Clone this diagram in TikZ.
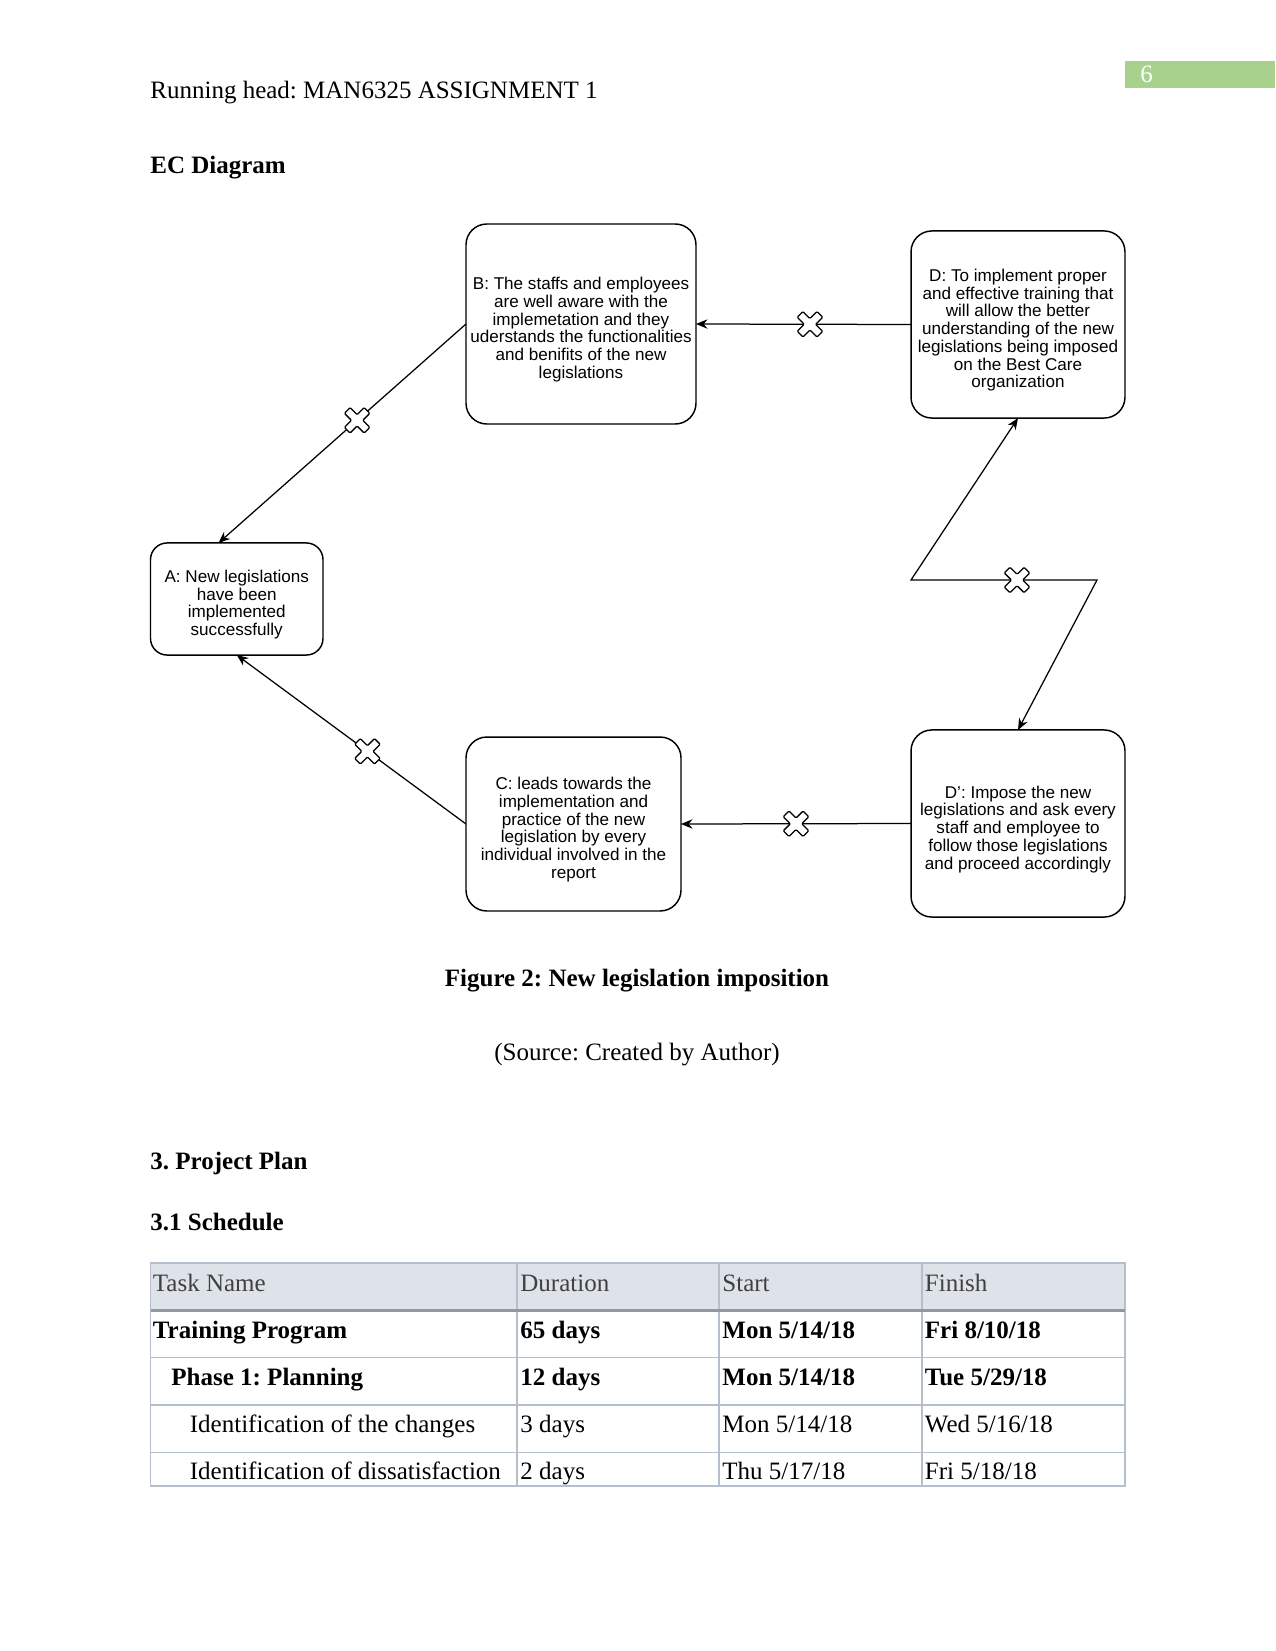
\documentclass[tikz,border=0pt]{standalone}
\usepackage{fontspec}
\setmainfont{Liberation Serif}
\newfontfamily\diafont{Liberation Sans}
\usetikzlibrary{arrows.meta, positioning}
\definecolor{pagegreen}{HTML}{A9D18E}
\definecolor{tblhead}{HTML}{DEE3EA}
\definecolor{tblline}{HTML}{B4BFCB}
\frenchspacing
% taller first line, so box text sits a little low as in the drawing
\newcommand\ectop{\rule{0pt}{11.4pt}}

\begin{document}
\begin{tikzpicture}[
  x=0.48pt, y=-0.48pt,
  ec/.style={draw, rounded corners=10pt, line width=0.7pt, align=center,
             inner sep=2pt, outer sep=0pt,
             font=\diafont\fontsize{8.2}{8.5}\selectfont},
  link/.style={line width=0.6pt, -{Stealth[length=5.5pt, width=4.5pt]}},
  link2/.style={line width=0.6pt,
                {Stealth[length=5.5pt, width=4.5pt]}-{Stealth[length=5.5pt, width=4.5pt]}},
  txt/.style={inner sep=0pt, anchor=base west, font=\fontsize{12}{14}\selectfont},
  txtb/.style={txt, font=\fontsize{12}{14}\selectfont\bfseries},
  clash/.pic={
    \draw[fill=white, line width=0.6pt, rounded corners=0.5pt, rotate=45]
      (4,4) -- (14,4) -- (14,-4) -- (4,-4) -- (4,-14) -- (-4,-14)
      -- (-4,-4) -- (-14,-4) -- (-14,4) -- (-4,4) -- (-4,14)
      -- (4,14) -- cycle;
  },
]
\path[fill=white, use as bounding box] (0,0) rectangle (1275,1651);

%% page head
\fill[pagegreen] (1125,61) rectangle (1275,88);
\node[txt, text=white] (pg) at (1140,83) {6};
\node[txt] (head) at (150,99) {Running head: MAN6325 ASSIGNMENT 1};
\node[txtb] (ttl) at (150,174) {EC Diagram};

%% EC boxes
\node[ec, minimum width=110.4pt, minimum height=96pt] (b) at (581,324) {
  \ectop B: The staffs and employees\\are well aware with the\\implemetation and they\\
  uderstands the functionalities\\and benifits of the new\\legislations};
\node[ec, minimum width=102.7pt, minimum height=89.8pt] (d) at (1018,324.5) {
  \ectop D: To implement proper\\and effective training that\\will allow the better\\
  understanding of the new\\legislations being imposed\\on the Best Care\\organization};
\node[ec, rounded corners=8pt, minimum width=82.8pt, minimum height=53.8pt] (a) at (236.75,599) {
  \ectop A: New legislations\\have been\\implemented\\successfully};
\node[ec, minimum width=103.2pt, minimum height=83.5pt] (c) at (573.5,824) {
  \ectop C: leads towards the\\implementation and\\practice of the new\\legislation by every\\
  individual involved in the\\report};
\node[ec, minimum width=102.7pt, minimum height=89.8pt] (dp) at (1018,823.5) {
  \ectop D’: Impose the new\\legislations and ask every\\staff and employee to\\
  follow those legislations\\and proceed accordingly};

%% Conflicts
\coordinate (zl) at (911,580);
\coordinate (zr) at (1097,580);
\draw[link] (d.west) -- coordinate[pos=.47] (k1) (b.east);
\draw[link] (b.west) -- coordinate[pos=.44] (k2) (a.108);
\draw[link] (dp.west) -- coordinate[pos=.5] (k3) (c.east);
\draw[link] (c.west) -- coordinate[pos=.43] (k4) (a.south);
\draw[link2] (d.south) -- (zl) -- coordinate[pos=.57] (k5) (zr) -- (dp.north);
\foreach \k in {1,...,5} \pic at (k\k) {clash};

\node[txtb, anchor=base] (cap) at (637,986) {Figure 2: New legislation imposition};
\node[txt, anchor=base] (src) at (637,1060) {(Source: Created by Author)};
\node[txtb] (sec) at (150,1169) {3. Project Plan};
\node[txtb] (sub) at (150,1230) {3.1 Schedule};

%% Schedule table
\fill[tblhead] (150.5,1263) rectangle (1125,1310.4);
\foreach \y in {1357.7,1405,1452.4}
  \draw[tblline, line width=0.5pt] (150.5,\y) -- (1125,\y);
\foreach \x in {517,719,922}
  \draw[tblline, line width=0.5pt] (\x,1263) -- (\x,1486);
\draw[tblline, line width=0.5pt] (150.5,1263) rectangle (1125,1486);
\draw[tblline!80!black, line width=1.1pt] (150.5,1310.4) -- (1125,1310.4);

\node[txt, text=black!75] (h1) at (152.5,1291) {Task Name};
\node[txt, text=black!75] (h2) at (520,1291) {Duration};
\node[txt, text=black!75] (h3) at (722,1291) {Start};
\node[txt, text=black!75] (h4) at (924.5,1291) {Finish};

\node[txtb] (r1a) at (152.5,1338) {Training Program};
\node[txtb] (r1b) at (520,1338) {65 days};
\node[txtb] (r1c) at (722,1338) {Mon 5/14/18};
\node[txtb] (r1d) at (924.5,1338) {Fri 8/10/18};

\node[txtb] (r2a) at (171,1385) {Phase 1: Planning};
\node[txtb] (r2b) at (520,1385) {12 days};
\node[txtb] (r2c) at (722,1385) {Mon 5/14/18};
\node[txtb] (r2d) at (924.5,1385) {Tue 5/29/18};

\node[txt] (r3a) at (189.5,1432) {Identification of the changes};
\node[txt] (r3b) at (520,1432) {3 days};
\node[txt] (r3c) at (722,1432) {Mon 5/14/18};
\node[txt] (r3d) at (924.5,1432) {Wed 5/16/18};

\node[txt] (r4a) at (189.5,1479) {Identification of dissatisfaction};
\node[txt] (r4b) at (520,1479) {2 days};
\node[txt] (r4c) at (722,1479) {Thu 5/17/18};
\node[txt] (r4d) at (924.5,1479) {Fri 5/18/18};
\end{tikzpicture}
\end{document}
